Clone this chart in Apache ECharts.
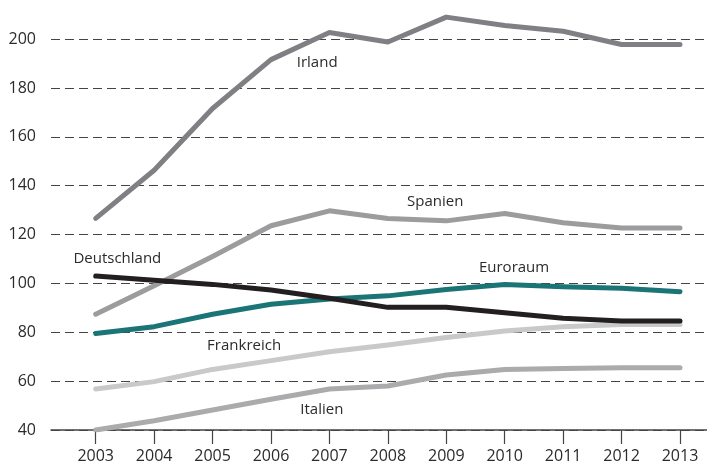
<!DOCTYPE html>
<html>
<head>
<meta charset="utf-8">
<script src="https://cdn.jsdelivr.net/npm/echarts@6/dist/echarts.min.js"></script>
<style>
    html, body { margin: 0; padding: 0; background: #fff; }
    #chart { width: 707px; height: 467px; }
</style>
</head>
<body>
<div id="chart"></div>
<script>
// Jahre
const years = [2003, 2004, 2005, 2006, 2007, 2008, 2009, 2010, 2011, 2012, 2013]

// Werte je Land
const irland = [126.6, 146.3, 171.6, 191.6, 202.7, 198.8, 209.0, 205.6, 203.2, 197.8, 197.8]
const spanien = [87.4, 99.0, 111.0, 123.6, 129.7, 126.6, 125.6, 128.6, 124.8, 122.7, 122.7]
const deutschland = [103.0, 101.3, 99.6, 97.3, 93.9, 90.2, 90.2, 88.0, 85.7, 84.6, 84.6]
const euroraum = [79.5, 82.3, 87.4, 91.5, 93.6, 94.9, 97.5, 99.6, 98.6, 98.0, 96.6]
const frankreich = [56.8, 59.8, 64.8, 68.4, 72.0, 74.8, 77.9, 80.5, 82.3, 83.2, 83.2]
const italien = [40.0, 43.8, 48.2, 52.6, 56.8, 58.0, 62.5, 64.8, 65.2, 65.5, 65.5]

// Beschriftungen an den Linien (Jahr, Wert)
const labelIrland = [2006.79, 190.5]
const labelSpanien = [2008.81, 133.3]
const labelDeutschland = [2003.37, 110.3]
const labelEuroraum = [2010.16, 106.3]
const labelFrankreich = [2005.54, 74.4]
const labelItalien = [2006.87, 48.2]

const yTicks = [40, 60, 80, 100, 120, 140, 160, 180, 200]

const fontFam = '"Open Sans", "Liberation Sans", sans-serif'

function makeLine(name, values, color, labelPos, z) {
    return {
        name: name,
        type: 'line',
        data: years.map((y, i) => [y, values[i]]),
        symbol: 'none',
        z: z,
        lineStyle: { color: color, width: 5, cap: 'round', join: 'round' },
        markPoint: {
            symbol: 'circle',
            symbolSize: 0,
            silent: true,
            label: {
                show: true,
                formatter: name,
                position: 'inside',
                color: '#2b2b2b',
                fontSize: 15,
                fontFamily: fontFam
            },
            data: [{ coord: labelPos }]
        }
    }
}

const chart = echarts.init(document.getElementById('chart'))
const opt = {
    animation: false,
    backgroundColor: '#fff',
    grid: { left: 51, right: 0, top: 0, bottom: 37, containLabel: false },
    xAxis: {
        type: 'value',
        min: 2002.235,
        max: 2013.462,
        axisLine: { show: true, lineStyle: { color: '#444', width: 1.5 } },
        axisTick: {
            show: true,
            length: 14,
            inside: false,
            customValues: years,
            lineStyle: { color: '#444', width: 1.2 }
        },
        axisLabel: {
            customValues: years,
            margin: 18,
            color: '#2b2b2b',
            fontSize: 16,
            fontFamily: fontFam,
            formatter: v => String(v)
        },
        splitLine: { show: false }
    },
    yAxis: {
        type: 'value',
        min: 40,
        max: 216,
        interval: 20,
        axisLine: { show: false },
        axisTick: { show: false },
        axisLabel: {
            margin: 15,
            color: '#2b2b2b',
            fontSize: 16,
            fontFamily: fontFam,
            showMaxLabel: false,
            formatter: v => (yTicks.includes(v) ? String(v) : '')
        },
        splitLine: {
            show: true,
            showMaxLine: false,
            lineStyle: { color: '#444', width: 1, type: [9, 5] }
        }
    },
    series: [
        makeLine('Italien', italien, '#ababae', labelItalien, 2),
        makeLine('Frankreich', frankreich, '#c9c9ca', labelFrankreich, 3),
        makeLine('Spanien', spanien, '#9c9c9f', labelSpanien, 4),
        makeLine('Irland', irland, '#808084', labelIrland, 5),
        makeLine('Euroraum', euroraum, '#1b7475', labelEuroraum, 6),
        makeLine('Deutschland', deutschland, '#231f20', labelDeutschland, 7)
    ]
}
chart.setOption(opt)
</script>
</body>
</html>
